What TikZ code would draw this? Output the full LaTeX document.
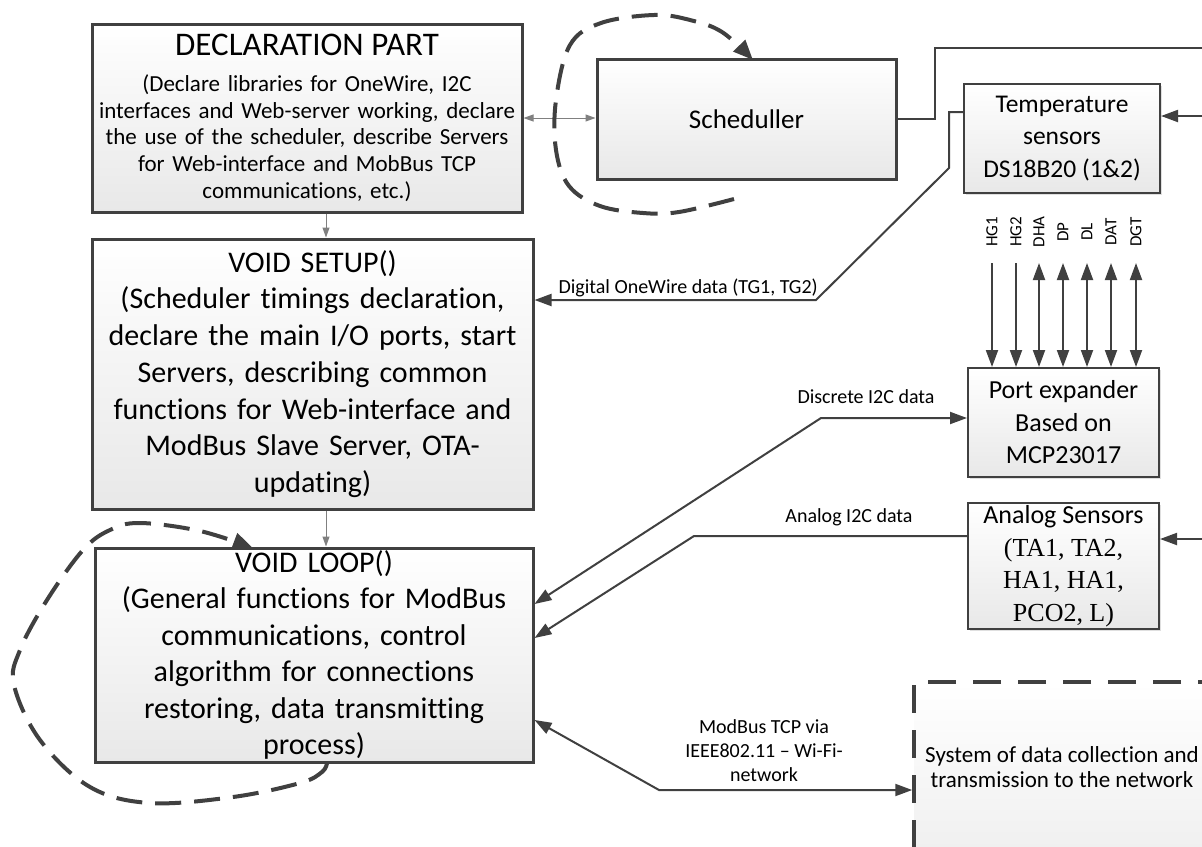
\documentclass[tikz,border=0pt]{standalone}
\usepackage{fontspec}
\setmainfont{Carlito}[Ligatures={TeX,NoCommon}]
\newfontfamily\timesfont{Liberation Serif}
\usetikzlibrary{shapes,arrows.meta,shadows}
\definecolor{linegray}{HTML}{404040}
\tikzstyle{block} = [rectangle, draw=linegray, line width=3pt, top color=white, bottom color=gray!18, align=center, inner sep=0pt, drop shadow={shadow xshift=2pt,shadow yshift=-2pt,opacity=0.25}]
\tikzstyle{smallblock} = [block, line width=2pt]
\tikzstyle{sysbox} = [rectangle, draw=linegray, line width=3.5pt, dash pattern=on 28pt off 17pt, top color=white, bottom color=gray!12, align=center, inner sep=0pt]
\tikzstyle{conn} = [draw=linegray, line width=2pt, >={Triangle[length=17pt,width=12pt]}]
\tikzstyle{thinconn} = [draw=gray, line width=1pt, >={Triangle[length=10pt,width=7pt]}]
\tikzstyle{dashloop} = [draw=linegray, line width=4pt, dash pattern=on 26pt off 13pt, >={Triangle[length=20pt,width=16pt]}]
\tikzstyle{lbl} = [font=\fontsize{20}{24}\selectfont, inner sep=0pt]
\tikzstyle{portlbl} = [font=\fontsize{17}{20}\selectfont, rotate=90, inner sep=0pt]

\begin{document}
\begin{tikzpicture}[x=1pt,y=-1pt]
  \useasboundingbox (0,0) rectangle (1202,846);

  % program parts
  \node[block, minimum width=430pt, minimum height=188pt, text width=425pt, font=\fontsize{23}{26.7}\selectfont] (decl) at (307,118)
    {{\fontsize{33}{38}\selectfont DECLARATION PART\par}\vspace{9pt}
     (Declare libraries for OneWire, I2C\\
     interfaces and Web-server working, declare\\
     the use of the scheduler, describe Servers\\
     for Web-interface and MobBus TCP\\
     communications, etc.)};
  \node[block, minimum width=299pt, minimum height=120pt, font=\fontsize{27}{32}\selectfont] (sched) at (746.5,119) {Scheduller};
  \node[block, minimum width=441pt, minimum height=270pt, text width=436pt, font=\fontsize{30}{36.7}\selectfont] (setup) at (312.5,374)
    {VOID SETUP()\\
     (Scheduler timings declaration,\\
     declare the main I/O ports, start\\
     Servers, describing common\\
     functions for Web-interface and\\
     ModBus Slave Server, OTA-\\
     updating)};
  \node[block, minimum width=438pt, minimum height=214pt, text width=434pt, font=\fontsize{30}{36.4}\selectfont] (loop) at (314,655)
    {VOID LOOP()\\
     (General functions for ModBus\\
     communications, control\\
     algorithm for connections\\
     restoring, data transmitting\\
     process)};

  % hardware
  \node[smallblock, minimum width=196pt, minimum height=109pt, font=\fontsize{25.5}{32.5}\selectfont] (temp) at (1062,138.5) {Temperature\\sensors\\DS18B20 (1\&2)};
  \node[smallblock, minimum width=191pt, minimum height=109pt, font=\fontsize{26}{32.5}\selectfont] (port) at (1063.5,422.5) {Port expander\\Based on\\MCP23017};
  \node[smallblock, minimum width=191pt, minimum height=126pt, font=\fontsize{26}{32.5}\selectfont] (analog) at (1063.5,566)
    {Analog Sensors\\{\timesfont (TA1, TA2,}\\{\timesfont HA1, HA1,}\\{\timesfont PCO2, L)}};
  \node[sysbox, minimum width=296pt, minimum height=170pt, font=\fontsize{23}{25.5}\selectfont] (sys) at (1062,767) {System of data collection and\\transmission to the network};

  \coordinate (schedturn) at (935,48);
  \coordinate (topend) at (1202,48);
  \coordinate (tempin) at (1202,116);
  \coordinate (analogin) at (1202,539);
  \coordinate (owA) at (949,112);
  \coordinate (owB) at (949,168);
  \coordinate (owC) at (816,300);
  \coordinate (dsA) at (821,418);
  \coordinate (anA) at (694,536);
  \coordinate (mbA) at (659,790);

  % program flow
  \draw[thinconn,<->] (decl.east) -- (decl.east -| sched.west);
  \draw[thinconn,->] ([xshift=19pt]decl.south) -- ([xshift=19pt]decl.south |- setup.north);
  \draw[thinconn,->] ([xshift=13.5pt]setup.south) -- ([xshift=13.5pt]setup.south |- loop.north);
  \draw[dashloop,->] plot[smooth, tension=0.6] coordinates {(734,199) (679,212) (643,213) (600,206) (569,186) (556,150) (556,100) (570,45) (601,23) (654,15) (690,20) (722,32) (753,60)};
  \draw[dashloop,->] plot[smooth, tension=0.6] coordinates {(327,763) (322,772) (300,783) (233,797) (150,803) (90,787) (40,740) (14,685) (20,650) (47,600) (83,550) (110,530) (140,523) (200,531) (253,548)};

  % data links
  \draw[conn] (sched.east) -| (schedturn) -- (topend);
  \draw[conn,->] (tempin) -- (tempin -| temp.east);
  \draw[conn,->] (owA -| temp.west) -- (owA) -- (owB) -- (owC) -- (owC -| setup.east);
  \node[lbl, anchor=base east] (owlbl) at (818,293) {Digital OneWire data (TG1, TG2)};
  \draw[conn,<->] (loop.east |- 0,604) -- (dsA) -- (dsA -| port.west);
  \node[lbl, anchor=base] (dslbl) at (866,403) {Discrete I2C data};
  \draw[conn,->] (analog.west |- anA) -- (anA) -- (loop.east |- 0,638);
  \node[lbl, anchor=base] (anlbl) at (849,522) {Analog I2C data};
  \draw[conn,->] (analogin) -- (analogin -| analog.east);
  \draw[conn,<->] (loop.east |- 0,720) -- (mbA) -- (mbA -| sys.west);
  \node[lbl, align=center] (mblbl) at (764,751) {ModBus TCP via\\IEEE802.11 – Wi-Fi-\\network};

  % expander pins
  \foreach \px/\pname in {992/HG1, 1016/HG2} {
    \node[portlbl] (lbl\pname) at (\px,232) {\pname};
    \draw[conn,->] (\px,263) -- (\px,263 |- port.north);
  }
  \foreach \px/\pname in {1039/DHA, 1063/DP, 1087/DL, 1111/DAT, 1136/DGT} {
    \node[portlbl] (lbl\pname) at (\px,232) {\pname};
    \draw[conn,<->] (\px,263) -- (\px,263 |- port.north);
  }
\end{tikzpicture}
\end{document}
